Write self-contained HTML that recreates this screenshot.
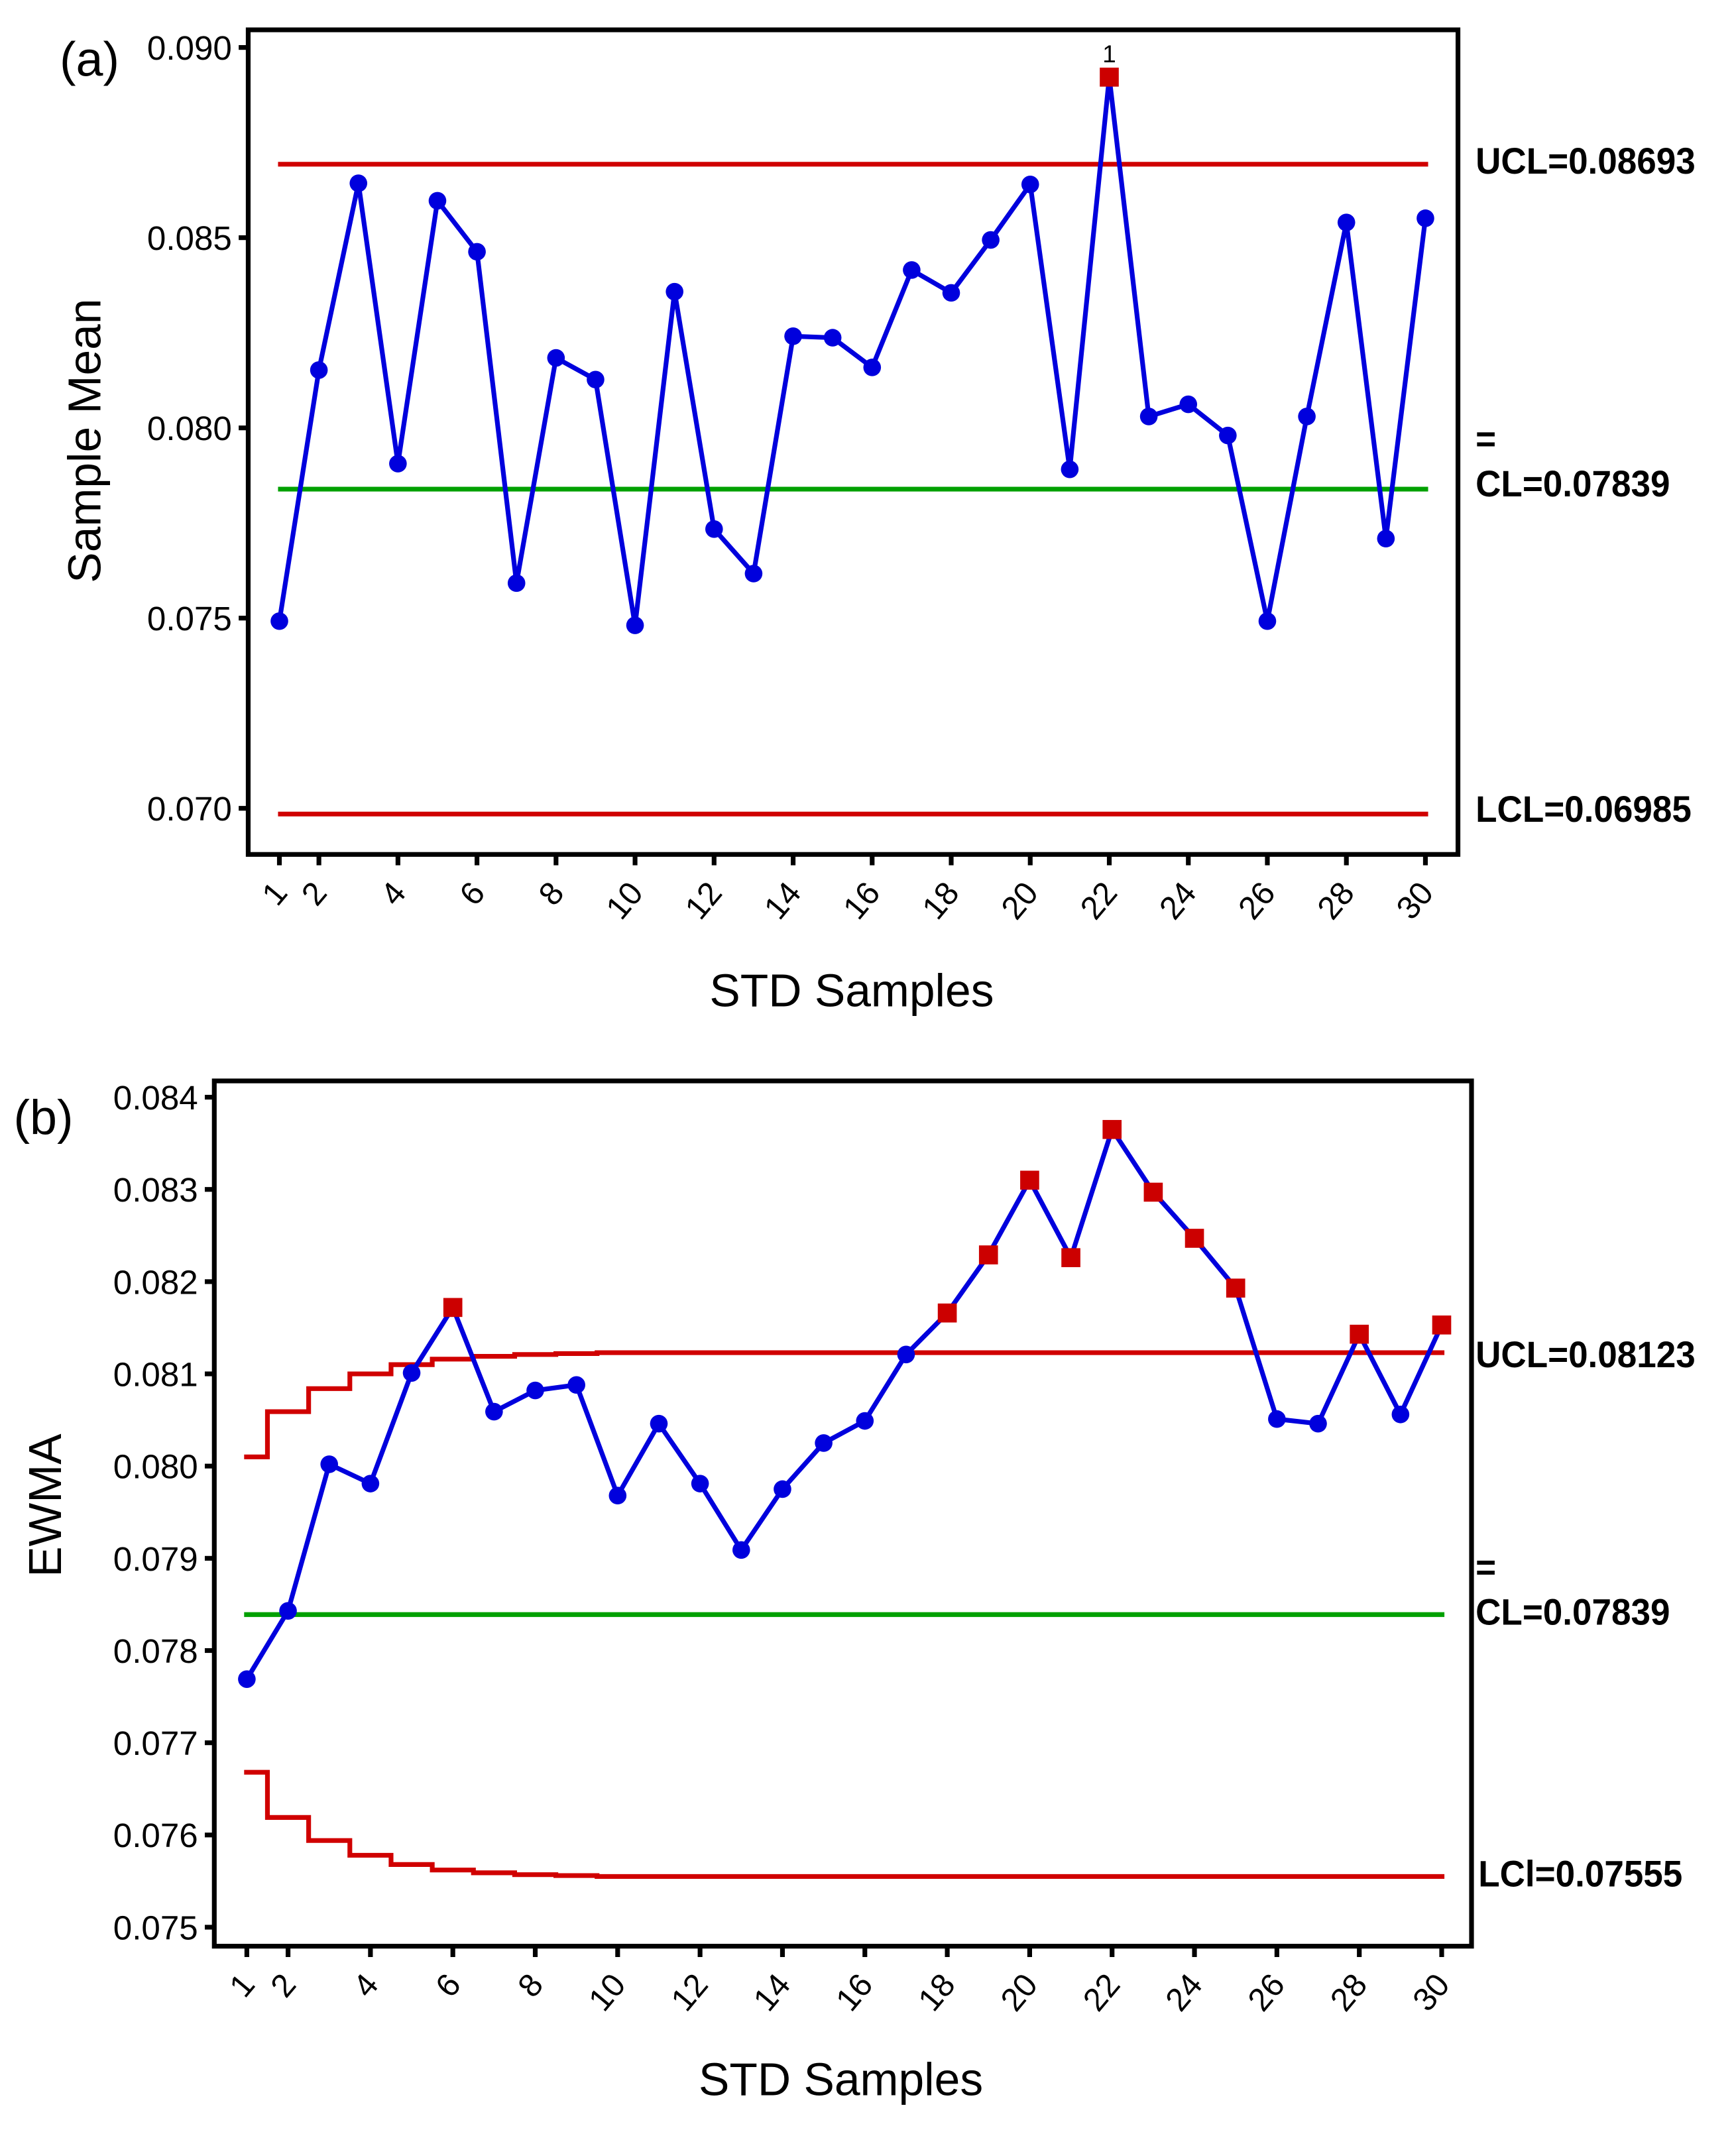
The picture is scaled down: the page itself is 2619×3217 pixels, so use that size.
<!DOCTYPE html>
<html><head><meta charset="utf-8">
<style>
html,body{margin:0;padding:0;background:#fff;}
svg{display:block;font-family:"Liberation Sans","DejaVu Sans",sans-serif;}
</style></head>
<body>
<svg id="fig" width="2619" height="3217" viewBox="0 0 1280 1572" preserveAspectRatio="none" xmlns="http://www.w3.org/2000/svg"></svg>
<script>
// ---- Chart (a) data ----
const samplesA = [1,2,3,4,5,6,7,8,9,10,11,12,13,14,15,16,17,18,19,20,21,22,23,24,25,26,27,28,29,30];
const meansA = [0.07492,0.08152,0.08643,0.07906,0.08597,0.08463,0.07592,0.08184,0.08127,0.07481,0.08358,0.07734,0.07617,0.08241,0.08237,0.08159,0.08415,0.08355,0.08494,0.08640,0.07891,0.08922,0.08030,0.08062,0.07980,0.07492,0.08030,0.08540,0.07709,0.08551];
const uclA = 0.08693, clA = 0.07839, lclA = 0.06985;
const yTicksA = [0.070,0.075,0.080,0.085,0.090];
const xTickLabels = [1,2,4,6,8,10,12,14,16,18,20,22,24,26,28,30];
// ---- Chart (b) data ----
const ewmaB = [0.07769,0.07843,0.08002,0.07981,0.08101,0.08172,0.08059,0.08082,0.08088,0.07968,0.08046,0.07981,0.07909,0.07975,0.08025,0.08049,0.08121,0.08166,0.08229,0.08310,0.08226,0.08365,0.08297,0.08247,0.08193,0.08051,0.08046,0.08143,0.08056,0.08153];
const uclB = [0.08010,0.08059,0.08084,0.08100,0.08110,0.08116,0.08119,0.08121,0.08122,0.08123,0.08123,0.08123,0.08123,0.08123,0.08123,0.08123,0.08123,0.08123,0.08123,0.08123,0.08123,0.08123,0.08123,0.08123,0.08123,0.08123,0.08123,0.08123,0.08123,0.08123];
const clB = 0.07839;
const yTicksB = [0.075,0.076,0.077,0.078,0.079,0.080,0.081,0.082,0.083,0.084];

const NS="http://www.w3.org/2000/svg";
const svg=document.getElementById('fig');
function mk(tag,attrs,parent){const e=document.createElementNS(NS,tag);for(const k in attrs)e.setAttribute(k,attrs[k]);(parent||svg).appendChild(e);return e;}

function chart(o){
  const g=mk('g',{});
  
  
  const sx=i=>o.x1+(i-1)*(o.x30-o.x1)/29;
  const sy=v=>o.yTop+(o.vTop-v)*(o.yBot-o.yTop)/(o.vTop-o.vBot);
  const fr=mk('rect',{x:o.fl,y:o.ft,width:o.fr-o.fl,height:o.fb-o.ft,fill:'none',stroke:'#000','stroke-width':3.5},g);
  
  
  o.yTicks.forEach(v=>{
    const y=sy(v);
    const t=mk('line',{x1:o.fl-7,x2:o.fl,y1:y,y2:y,stroke:'#000','stroke-width':3.5},g);
    
    
    const tx=mk('text',{x:o.fl-12,y:y+9,'text-anchor':'end','font-size':25,fill:'#000'},g);
    tx.textContent=v.toFixed(3);
    
    
  });
  xTickLabels.forEach(s=>{
    const x=sx(s);
    const t=mk('line',{x1:x,x2:x,y1:o.fb,y2:o.fb+8,stroke:'#000','stroke-width':3.5},g);
    
    
    const tx=mk('text',{x:x+7,y:o.fb+29,'text-anchor':'end','font-size':24,fill:'#000',transform:`rotate(-50 ${x+7} ${o.fb+29})`},g);
    tx.textContent=s;
    
    
  });
  const yt=mk('text',{x:0,y:0,'text-anchor':'middle','font-size':34,fill:'#000',transform:`translate(${o.ytX},${o.ytY}) rotate(-90)`},g);
  yt.textContent=o.yTitle;
  
  
  const xt=mk('text',{x:o.xtX,y:o.xtY,'text-anchor':'middle','font-size':34,fill:'#000','xml:space':'preserve'},g);
  xt.textContent='STD  Samples';
  
  
  const pl=mk('text',{x:o.plX,y:o.plY,'font-size':36,fill:'#000'},g);
  pl.textContent=o.panel;
  
  
  return {g,sx,sy};
}

function limitLabel(g,x,y,txt,name){
  const t=mk('text',{x:x,y:y,'font-size':27,'font-weight':'bold',fill:'#000',transform:`translate(${x} 0) scale(0.96 1) translate(${-x} 0)`},g);
  t.textContent=txt;
  
  
}

// ---- Chart A ----
const A=chart({name:'xbar-chart',fl:183,ft:22,fr:1075,fb:630,x1:206,x30:1051,yTop:35,yBot:596,vTop:0.090,vBot:0.070,
  yTicks:yTicksA,yTitle:'Sample Mean',ytX:74,ytY:325,xtX:628,xtY:742,panel:'(a)',plX:44,plY:56});
[[uclA,'#d00000','ucl-line'],[clA,'#00a000','center-line'],[lclA,'#d00000','lcl-line']].forEach(([v,c,n])=>{
  const l=mk('line',{x1:205,x2:1053,y1:A.sy(v),y2:A.sy(v),stroke:c,'stroke-width':3.5},A.g);
  
  
});
const pa=mk('polyline',{points:meansA.map((v,i)=>A.sx(samplesA[i])+','+A.sy(v)).join(' '),fill:'none',stroke:'#0000dd','stroke-width':3.5},A.g);


meansA.forEach((v,i)=>{
  const x=A.sx(samplesA[i]),y=A.sy(v);
  let m;
  if(v>uclA||v<lclA){
    m=mk('rect',{x:x-7,y:y-7,width:14,height:14,fill:'#cc0000'},A.g);
    const f=mk('text',{x:x,y:y-11,'text-anchor':'middle','font-size':18,fill:'#000'},A.g);
    f.textContent='1';
    
    
  } else m=mk('circle',{cx:x,cy:y,r:6.5,fill:'#0000dd'},A.g);
  
  
});
limitLabel(A.g,1088,128,'UCL=0.08693','ucl-label');
limitLabel(A.g,1088,366,'CL=0.07839','cl-label');
limitLabel(A.g,1088,333,'=','cl-bar-symbol');
limitLabel(A.g,1088,606,'LCL=0.06985','lcl-label');

// ---- Chart B ----
const B=chart({name:'ewma-chart',fl:158,ft:797,fr:1085,fb:1435,x1:182,x30:1063,yTop:809,yBot:1421,vTop:0.084,vBot:0.075,
  yTicks:yTicksB,yTitle:'EWMA',ytX:45,ytY:1110,xtX:620,xtY:1545,panel:'(b)',plX:10,plY:836});
const cl=mk('line',{x1:180,x2:1065,y1:B.sy(clB),y2:B.sy(clB),stroke:'#00a000','stroke-width':3.5},B.g);


function stepPath(vals){
  let d='';
  vals.forEach((v,i)=>{
    const s=i+1;
    const xa=s===1?B.sx(1)-2:B.sx(s-0.5), xb=s===30?B.sx(30)+2:B.sx(s+0.5);
    d+=(i===0?'M':'L')+xa+','+B.sy(v)+' L'+xb+','+B.sy(v)+' ';
  });
  return d;
}
const up=mk('path',{d:stepPath(uclB),fill:'none',stroke:'#d00000','stroke-width':3.5},B.g);


const lclB=uclB.map(u=>2*clB-u);
const lo=mk('path',{d:stepPath(lclB),fill:'none',stroke:'#d00000','stroke-width':3.5},B.g);


const pb=mk('polyline',{points:ewmaB.map((v,i)=>B.sx(i+1)+','+B.sy(v)).join(' '),fill:'none',stroke:'#0000dd','stroke-width':3.5},B.g);


ewmaB.forEach((v,i)=>{
  const x=B.sx(i+1),y=B.sy(v);
  let m;
  if(v>uclB[i]||v<lclB[i]) m=mk('rect',{x:x-7,y:y-7,width:14,height:14,fill:'#cc0000'},B.g);
  else m=mk('circle',{cx:x,cy:y,r:6.5,fill:'#0000dd'},B.g);
  
  
});
limitLabel(B.g,1088,1008,'UCL=0.08123','ucl-label');
limitLabel(B.g,1088,1198,'CL=0.07839','cl-label');
limitLabel(B.g,1088,1165,'=','cl-bar-symbol');
limitLabel(B.g,1090,1391,'LCl=0.07555','lcl-label');
</script>
</body></html>
